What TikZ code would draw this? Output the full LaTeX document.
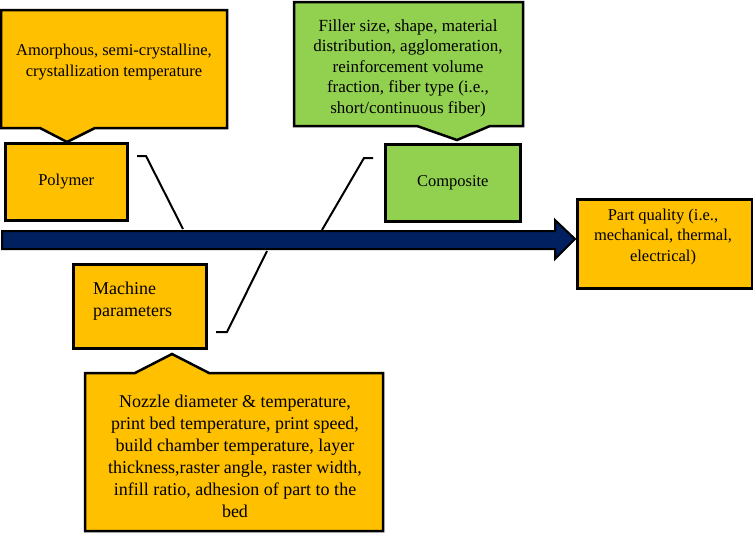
\documentclass[tikz,border=0pt]{standalone}
\usepackage{fontspec}
\setmainfont{Liberation Serif}
\definecolor{orng}{HTML}{FFC000}
\definecolor{grn}{HTML}{92D050}
\definecolor{navy}{HTML}{002060}
\begin{document}
\begin{tikzpicture}[x=1pt,y=-1pt,
  box/.style={draw=black,line width=2.5pt,line join=miter},
  txt/.style={align=center,inner sep=0pt,font=\fontsize{16.5}{20.5}\selectfont},
  bone/.style={draw=black,line width=2pt}]
\useasboundingbox (0,0) rectangle (753,533);
% arrow
\draw[box,fill=navy,line width=2pt] (2,231) -- (555,231) -- (555,220) -- (575,239) -- (555,259) -- (555,249) -- (2,249) -- cycle;
% polymer callout
\draw[box,fill=orng] (1,10) -- (227,10) -- (227,128) -- (95,128) -- (67,142) -- (40,128) -- (1,128) -- cycle;
\node[txt] (polyc) at (114,62) {Amorphous, semi-crystalline,\\crystallization temperature};
% polymer box
\node[box,fill=orng,minimum width=122pt,minimum height=77pt,anchor=north west,txt] (poly) at (4,142) {Polymer};
% composite callout
\draw[box,fill=grn] (294,2) -- (523,2) -- (523,126) -- (490,126) -- (457,140) -- (417,126) -- (294,126) -- cycle;
\node[txt,font=\fontsize{17}{20.5}\selectfont] (compc) at (408,68) {Filler size, shape, material\\distribution, agglomeration,\\reinforcement volume\\fraction, fiber type (i.e.,\\short/continuous fiber)};
% composite box
\node[box,fill=orng,fill=grn,minimum width=135pt,minimum height=77pt,anchor=north west,txt] (comp) at (384,143) {Composite};
% machine box
\node[box,fill=orng,minimum width=133pt,minimum height=84pt,anchor=north west] (mach) at (72,263) {};
\node[txt,align=left,anchor=west,font=\fontsize{18}{22}\selectfont] (macht) at (93,301) {Machine\\parameters};
% machine callout
\draw[box,fill=orng] (85,373) -- (135,373) -- (172,354) -- (209,373) -- (383,373) -- (383,531) -- (85,531) -- cycle;
\node[txt,font=\fontsize{18}{22}\selectfont] (machc) at (235,456) {Nozzle diameter \& temperature,\\print bed temperature, print speed,\\build chamber temperature, layer\\thickness,raster angle, raster width,\\infill ratio, adhesion of part to the\\bed};
% part quality
\node[box,fill=orng,minimum width=175pt,minimum height=89pt,anchor=north west] (part) at (576,198) {};
\node[txt] (partt) at (663,237) {Part quality (i.e.,\\mechanical, thermal,\\electrical)};
% bones
\coordinate (pa) at (137,156); \coordinate (pb) at (146,156); \coordinate (pc) at (183,229);
\coordinate (ca) at (373,158); \coordinate (cb) at (364,158); \coordinate (cc) at (322,230);
\coordinate (ma) at (216,332); \coordinate (mb) at (227,332); \coordinate (mc) at (267,251);
\draw[bone] (pa) -- (pb) -- (pc);
\draw[bone] (ca) -- (cb) -- (cc);
\draw[bone] (ma) -- (mb) -- (mc);
\end{tikzpicture}
\end{document}
